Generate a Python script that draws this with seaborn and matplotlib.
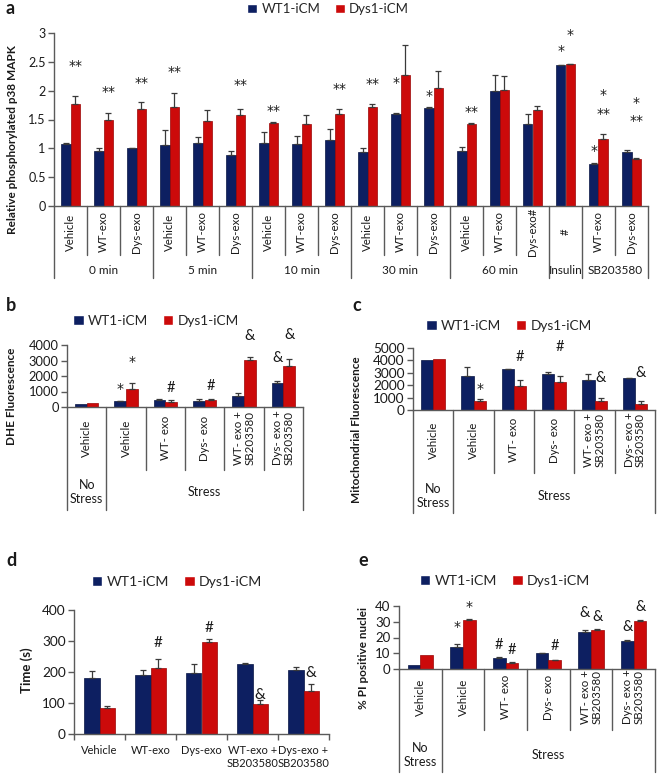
import numpy as np
import pandas as pd
import matplotlib
matplotlib.use("Agg")
import matplotlib.pyplot as plt
import matplotlib.transforms as mtrans
from matplotlib.ticker import FuncFormatter
import seaborn as sns

# ---------------- data ----------------
SERIES = ["WT1-iCM", "Dys1-iCM"]

# panel a : relative phosphorylated p38 MAPK
a_labels = ["Vehicle", "WT-exo", "Dys-exo", "Vehicle", "WT-exo", "Dys-exo",
            "Vehicle", "WT-exo", "Dys-exo", "Vehicle", "WT-exo", "Dys-exo",
            "Vehicle", "WT-exo", "Dys-exo#", "#", "WT-exo", "Dys-exo"]
a_groups = [("0 min", 3), ("5 min", 3), ("10 min", 3), ("30 min", 3),
            ("60 min", 3), ("Insulin", 1), ("SB203580", 2)]
a_wt = [1.08, 0.96, 1.00, 1.06, 1.09, 0.88, 1.10, 1.07, 1.15,
        0.94, 1.60, 1.70, 0.96, 2.00, 1.43, 2.44, 0.72, 0.94]
a_wt_sem = [0.01, 0.04, 0.01, 0.25, 0.11, 0.08, 0.18, 0.15, 0.19,
            0.06, 0.01, 0.01, 0.07, 0.27, 0.17, 0.01, 0.03, 0.03]
a_dys = [1.77, 1.50, 1.68, 1.72, 1.47, 1.57, 1.44, 1.42, 1.60,
         1.72, 2.27, 2.05, 1.42, 2.01, 1.66, 2.46, 1.17, 0.82]
a_dys_sem = [0.13, 0.12, 0.12, 0.24, 0.20, 0.12, 0.01, 0.15, 0.08,
             0.05, 0.52, 0.29, 0.02, 0.24, 0.07, 0.01, 0.08, 0.01]
a_marks = [(0, "D", "**", 2.49), (1, "D", "**", 2.05), (2, "D", "**", 2.21),
           (3, "D", "**", 2.40), (5, "D", "**", 2.17), (6, "D", "**", 1.72),
           (8, "D", "**", 2.09), (9, "D", "**", 2.19), (10, "W", "*", 2.21),
           (11, "W", "*", 1.98), (12, "D", "**", 1.70), (15, "W", "*", 2.75),
           (15, "D", "*", 3.03), (16, "W", "*", 1.03), (16, "D", "*", 2.00),
           (16, "D", "**", 1.67), (17, "D", "*", 1.86), (17, "D", "**", 1.55)]
a_yticks = [0, 0.5, 1, 1.5, 2, 2.5, 3]

stress_groups = [("No\nStress", 1), ("Stress", 5)]

# panel b : DHE fluorescence
b_labels = ["Vehicle", "Vehicle", "WT- exo", "Dys- exo",
            "WT- exo +\nSB203580", "Dys- exo +\nSB203580"]
b_wt = [214, 364, 428, 406, 727, 1540]
b_wt_sem = [0, 20, 85, 107, 173, 150]
b_dys = [278, 1176, 342, 470, 3040, 2650]
b_dys_sem = [0, 364, 108, 22, 210, 430]
b_marks = [(1, "W", "*", 1430), (1, "D", "*", 3144), (2, "D", "#", 1219),
           (3, "D", "#", 1326), (4, "D", "&", 4577), (5, "W", "&", 3144),
           (5, "D", "&", 4640)]
b_yticks = [0, 1000, 2000, 3000, 4000]

# panel c : mitochondrial fluorescence
c_labels = b_labels
c_wt = [4050, 2760, 3300, 2890, 2430, 2600]
c_wt_sem = [0, 670, 20, 210, 460, 20]
c_dys = [4100, 730, 1970, 2220, 730, 486]
c_dys_sem = [0, 135, 410, 560, 270, 270]
c_marks = [(1, "D", "*", 2030), (2, "D", "#", 4240), (3, "D", "#", 5050),
           (4, "D", "&", 2570), (5, "D", "&", 2970)]
c_yticks = [0, 1000, 2000, 3000, 4000, 5000]

# panel d : time (s)
d_labels = ["Vehicle", "WT-exo", "Dys-exo", "WT-exo +\nSB203580", "Dys-exo +\nSB203580"]
d_wt = [182, 190, 198, 226, 206]
d_wt_sem = [21, 16, 29, 2, 11]
d_dys = [84, 212, 296, 98, 140]
d_dys_sem = [5, 30, 10, 12, 20]
d_marks = [(1, "D", "#", 292), (2, "D", "#", 341), (3, "D", "&", 126),
           (4, "D", "&", 198)]
d_yticks = [0, 100, 200, 300, 400]

# panel e : % PI positive nuclei
e_labels = b_labels
e_wt = [2.3, 14.0, 7.0, 10.0, 23.2, 17.9]
e_wt_sem = [0, 1.7, 0.4, 0.4, 1.5, 0.2]
e_dys = [9.1, 31.0, 3.8, 5.5, 24.7, 30.6]
e_dys_sem = [0, 0.5, 0.7, 0.2, 0.4, 0.4]
e_marks = [(1, "W", "*", 29.4), (1, "D", "*", 42.1), (2, "W", "#", 15.1),
           (2, "D", "#", 12.3), (3, "D", "#", 14.5), (4, "W", "&", 35.3),
           (4, "D", "&", 33.2), (5, "W", "&", 26.4), (5, "D", "&", 39.1)]
e_yticks = [0, 10, 20, 30, 40]

# ---------------- style ----------------
W, H = 660, 776
WT_COLOR, WT_EDGE = "#0d1f61", "#081443"
DYS_COLOR, DYS_EDGE = "#cc0a0a", "#9a0505"
ERR = "#3a3a3a"
AXC = "#5a5a5a"
TXT = "#1a1a1a"

sns.set_theme(style="white")
plt.rcParams["font.family"] = ["Lato", "DejaVu Sans"]

fig = plt.figure(figsize=(W / 100, H / 100), dpi=100)


def fx(px):
    return px / W


def fy(py):
    return 1 - py / H


def make_axes(l, t, r, b):
    return fig.add_axes([fx(l), fy(b), (r - l) / W, (b - t) / H])


def bars(ax, wt, dys, wt_sem, dys_sem):
    n = len(wt)
    keys = [f"c{i}" for i in range(n)]
    df = pd.DataFrame({"cat": keys + keys,
                       "cell": [SERIES[0]] * n + [SERIES[1]] * n,
                       "value": list(wt) + list(dys)})
    sns.barplot(data=df, x="cat", y="value", hue="cell", order=keys,
                hue_order=SERIES, palette=[WT_COLOR, DYS_COLOR], width=0.6,
                errorbar=None, saturation=1, legend=True, ax=ax)
    conts = list(ax.containers)[:2]
    for cont, sem, ec in zip(conts, [wt_sem, dys_sem], [WT_EDGE, DYS_EDGE]):
        for bar, s in zip(cont, sem):
            bar.set_edgecolor(ec)
            bar.set_linewidth(0.5)
            if s > 0:
                ax.errorbar(bar.get_x() + bar.get_width() / 2, bar.get_height(),
                            yerr=[[0], [s]], fmt="none", ecolor=ERR,
                            elinewidth=0.9, capsize=2.5, capthick=0.9, zorder=3)
    ax.set_xlabel("")
    ax.set_ylabel("")
    ax.set_xlim(-0.5, n - 0.5)
    return conts


def style(ax, ticks, fs):
    sns.despine(ax=ax)
    for s in ["left", "bottom"]:
        ax.spines[s].set_color(AXC)
        ax.spines[s].set_linewidth(1)
    ax.set_yticks(ticks)
    ax.set_ylim(ticks[0], ticks[-1])
    ax.yaxis.set_major_formatter(FuncFormatter(lambda v, p: f"{v:g}"))
    ax.tick_params(axis="y", left=True, length=4, width=1, color=AXC,
                   labelsize=fs, pad=2, labelcolor=TXT)


def legend(ax, cx, cy, fs):
    h, l = ax.get_legend_handles_labels()
    if ax.get_legend() is not None:
        ax.get_legend().remove()
    ax.legend(h, l, loc="center", bbox_to_anchor=(fx(cx), fy(cy)),
              bbox_transform=fig.transFigure, ncol=2, frameon=False,
              fontsize=fs, handlelength=0.75, handleheight=0.75,
              handletextpad=0.3, columnspacing=1.1, borderpad=0,
              borderaxespad=0)


def table(ax, labels, groups, axis_b, label_c, inner_end, group_end,
          group_y, fs, gfs):
    tr = mtrans.blended_transform_factory(ax.transData, fig.transFigure)
    ax.tick_params(axis="x", bottom=False, labelbottom=False)
    n = len(labels)
    bounds = {0}
    acc = 0
    for _, cnt in groups:
        acc += cnt
        bounds.add(acc)
    for i in range(n + 1):
        end = group_end if i in bounds else inner_end
        ax.plot([i - 0.5, i - 0.5], [fy(axis_b), fy(end)], transform=tr,
                clip_on=False, color=AXC, lw=1)
    for i, lab in enumerate(labels):
        ax.text(i, fy(label_c), lab, transform=tr, rotation=90, ha="center",
                va="center", fontsize=fs, multialignment="center", color=TXT,
                linespacing=1.05)
    acc = 0
    for name, cnt in groups:
        ax.text(acc + cnt / 2 - 0.5, fy(group_y), name, transform=tr,
                ha="center", va="center", fontsize=gfs, color=TXT,
                linespacing=1.15)
        acc += cnt
    ax.set_xlim(-0.5, n - 0.5)


def marks(ax, conts, items, fs):
    star_tr = mtrans.offset_copy(ax.transData, fig=fig, y=-4, units="dots")
    for i, who, txt, y in items:
        if who == "W":
            b = conts[0][i]
            x = b.get_x() + b.get_width() / 2
        elif who == "D":
            b = conts[1][i]
            x = b.get_x() + b.get_width() / 2
        else:
            x = i
        if "*" in txt:
            ax.text(x, y, txt, ha="center", va="center", fontsize=10,
                    color=TXT, clip_on=False, transform=star_tr,
                    family="DejaVu Sans")
        else:
            ax.text(x, y, txt, ha="center", va="center", fontsize=fs,
                    color=TXT, clip_on=False)


def ylabel(text, x, y, fs):
    fig.text(fx(x), fy(y), text, rotation=90, ha="center", va="center",
             fontsize=fs, fontweight="bold", color=TXT)


def letter(text, x, y):
    fig.text(fx(x), fy(y), text, ha="left", va="center", fontsize=13,
             fontweight="bold", color=TXT)


# ---------------- panel a ----------------
axa = make_axes(54, 33, 648, 206)
ca = bars(axa, a_wt, a_dys, a_wt_sem, a_dys_sem)
style(axa, a_yticks, 9)
legend(axa, 328, 9, 9.5)
table(axa, a_labels, a_groups, 206, 232, 255, 278, 271, 8.2, 8.5)
marks(axa, ca, a_marks, 9)
ylabel("Relative phosphorylated p38 MAPK", 13, 140, 8.5)
letter("a", 6, 9)

# ---------------- panel b ----------------
axb = make_axes(67, 345, 303, 407)
cb = bars(axb, b_wt, b_dys, b_wt_sem, b_dys_sem)
style(axb, b_yticks, 9.3)
legend(axb, 156, 321, 9.8)
table(axb, b_labels, stress_groups, 407, 438, 470, 510, 492, 8.3, 9)
marks(axb, cb, b_marks, 10.5)
ylabel("DHE Fluorescence", 12, 396, 8.5)
letter("b", 6, 306)

# ---------------- panel c ----------------
axc = make_axes(413, 348, 655, 410)
cc = bars(axc, c_wt, c_dys, c_wt_sem, c_dys_sem)
style(axc, c_yticks, 9.8)
legend(axc, 509, 326, 9.8)
table(axc, c_labels, stress_groups, 410, 440, 473, 513, 496, 8.3, 9)
marks(axc, cc, c_marks, 10.5)
ylabel("Mitochondrial Fluorescence", 357, 430, 8.5)
letter("c", 352, 306)

# ---------------- panel d ----------------
axd = make_axes(74, 610, 329, 734)
cd = bars(axd, d_wt, d_dys, d_wt_sem, d_dys_sem)
style(axd, d_yticks, 9.8)
legend(axd, 177, 582, 10.2)
axd.set_xticks(range(len(d_labels)))
axd.set_xticklabels(d_labels)
axd.set_xticks([i - 0.5 for i in range(len(d_labels) + 1)], minor=True)
axd.tick_params(axis="x", which="major", bottom=False, length=0, pad=8,
                labelsize=8, labelcolor=TXT)
axd.tick_params(axis="x", which="minor", bottom=True, length=4, width=1,
                color=AXC, direction="out")
axd.set_xlim(-0.5, len(d_labels) - 0.5)
marks(axd, cd, d_marks, 11)
ylabel("Time (s)", 27, 670, 9.5)
letter("d", 6, 561)

# ---------------- panel e ----------------
axe = make_axes(399, 606, 655, 669)
ce = bars(axe, e_wt, e_dys, e_wt_sem, e_dys_sem)
style(axe, e_yticks, 9.5)
legend(axe, 505, 581, 10.2)
table(axe, e_labels, stress_groups, 669, 697, 730, 772, 755, 8.3, 9)
marks(axe, ce, e_marks, 10.5)
ylabel("% PI positive nuclei", 363, 658, 8.5)
letter("e", 358, 561)

fig.savefig("out.png", dpi=100)
